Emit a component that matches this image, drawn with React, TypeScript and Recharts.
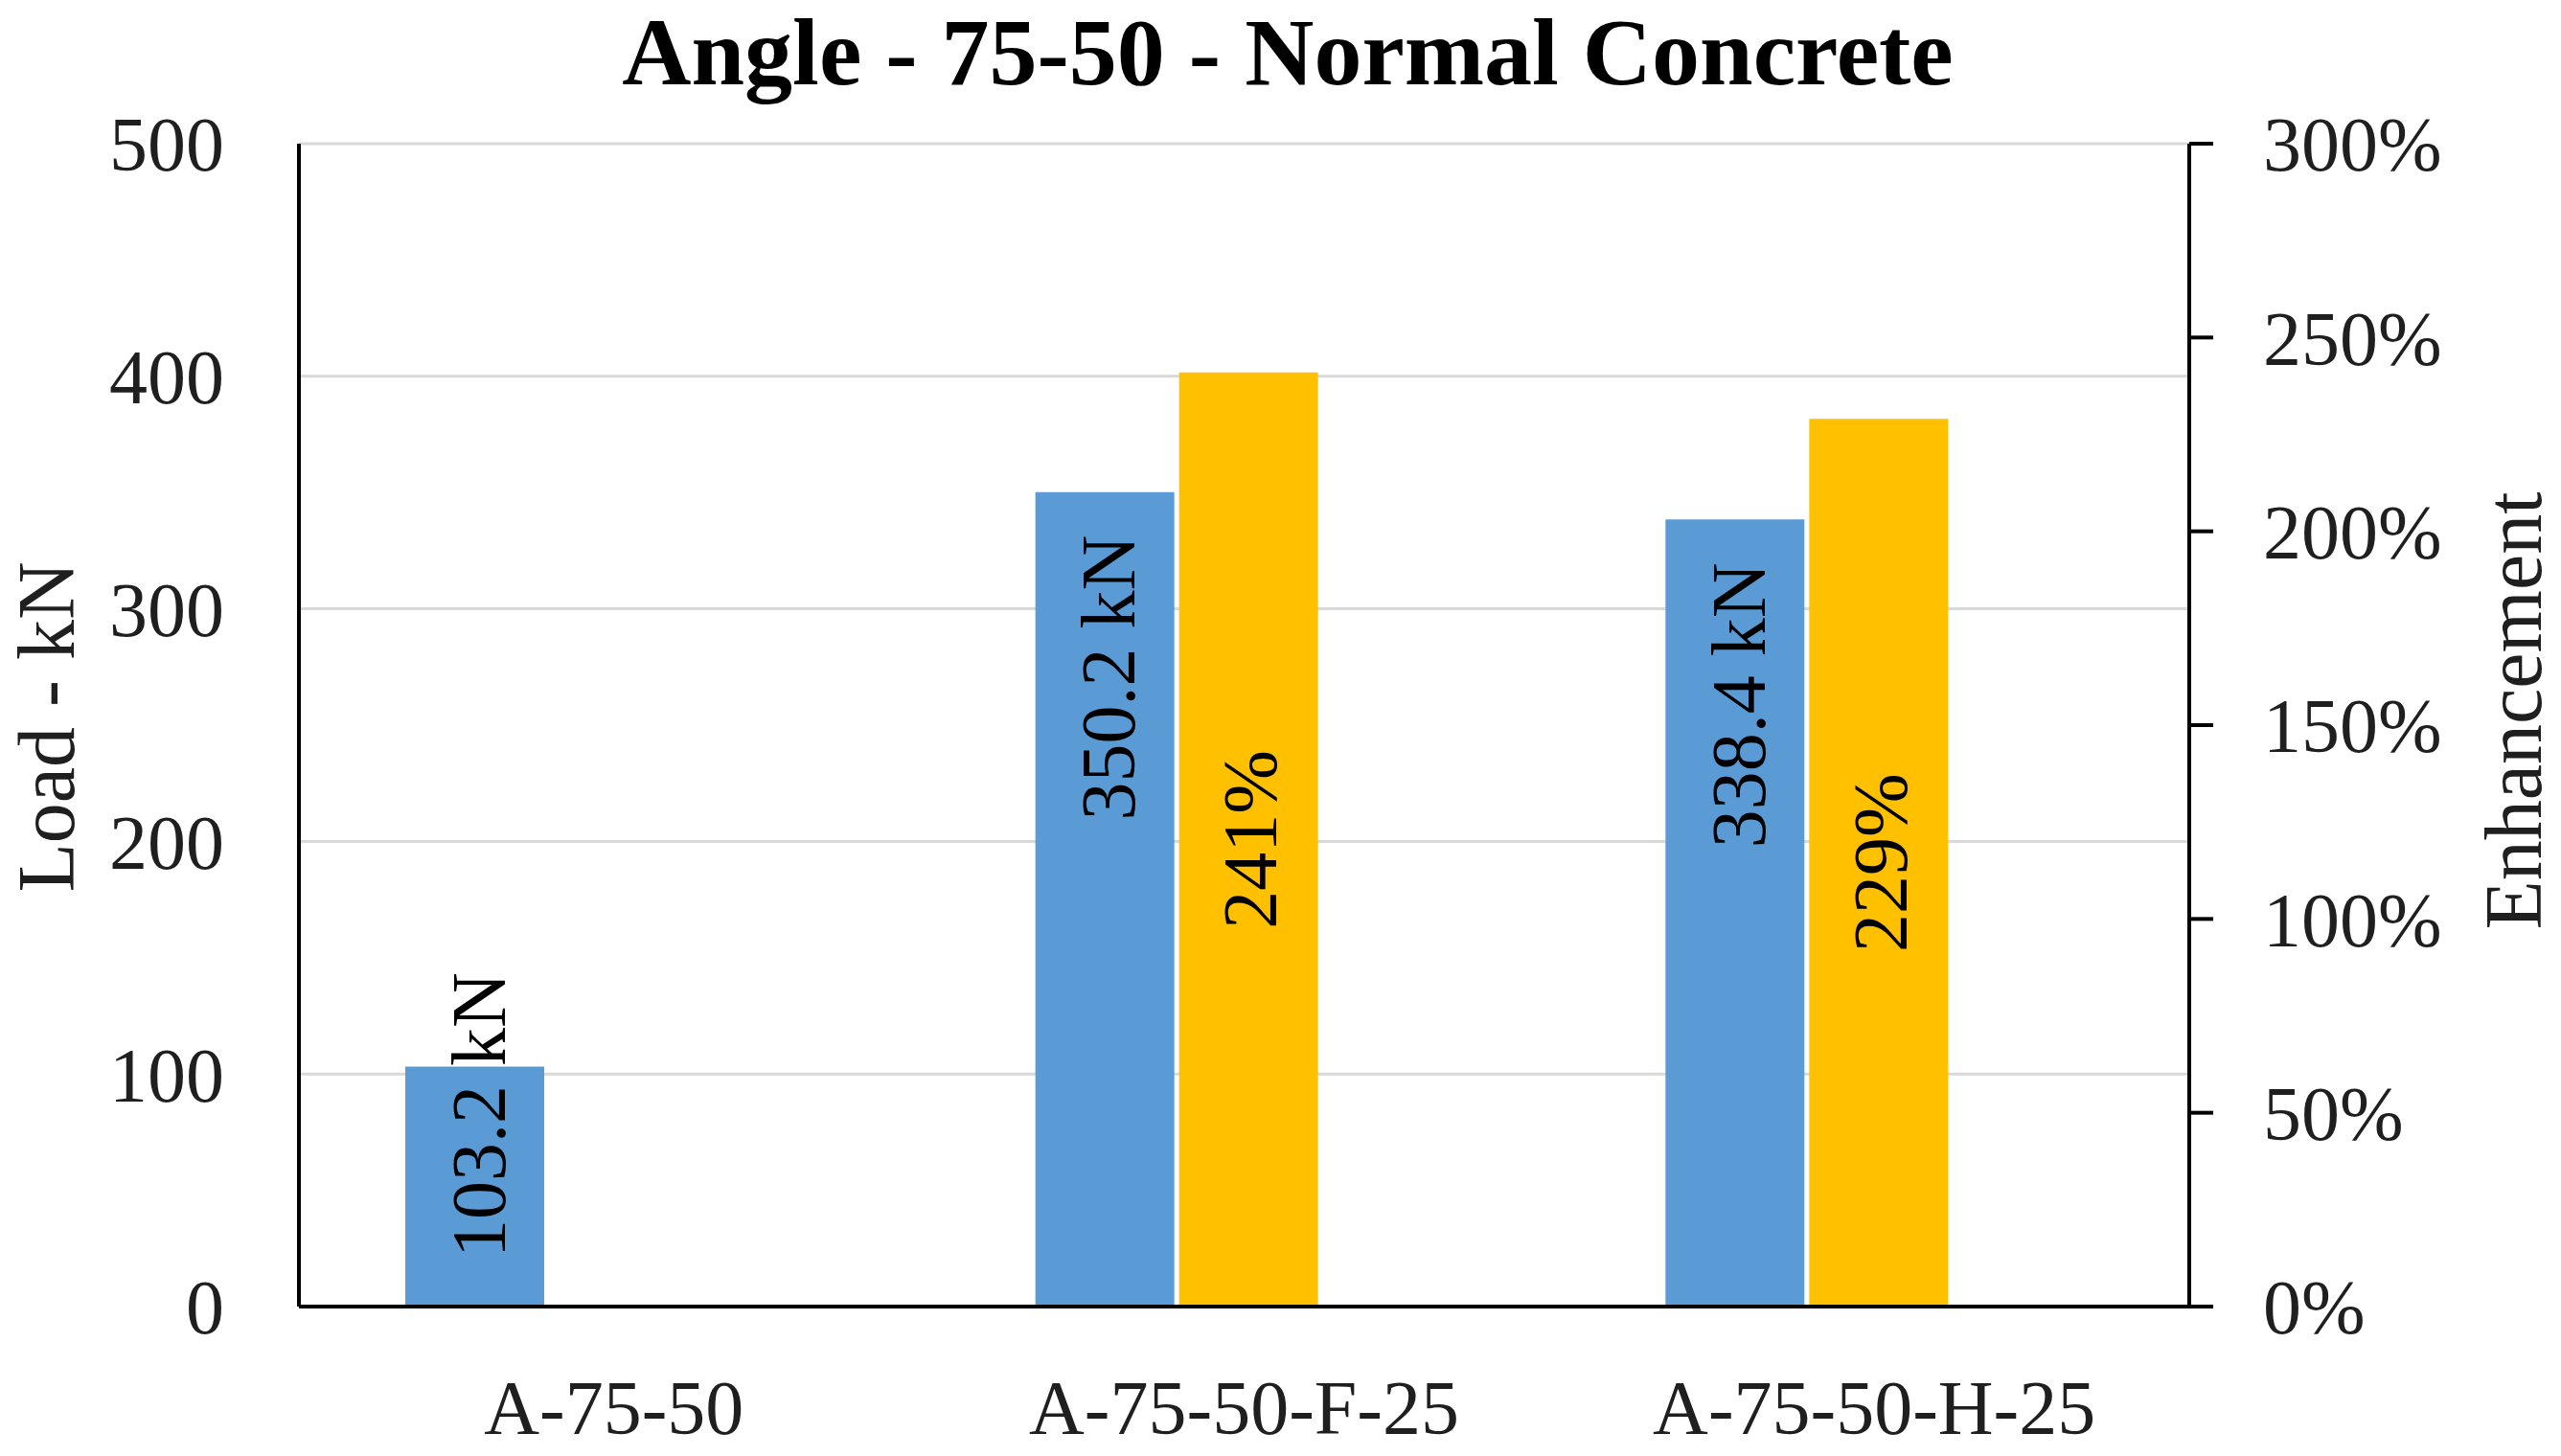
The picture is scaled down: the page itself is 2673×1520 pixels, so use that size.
import { BarChart, Bar, XAxis, YAxis, CartesianGrid, LabelList } from "recharts";

const categories = ["A-75-50", "A-75-50-F-25", "A-75-50-H-25"];
const loadKN = [103.2, 350.2, 338.4];
const enhancementPct: (number | null)[] = [null, 241, 229];
const loadTicks = [0, 100, 200, 300, 400, 500];
const pctTicks = [0, 50, 100, 150, 200, 250, 300];

const data = categories.map((name, i) => ({
  name,
  load: loadKN[i],
  enh: enhancementPct[i],
  pad: null,
}));

const FONT = "'Liberation Serif', 'Times New Roman', serif";
const INK = "#1f1f1f";

function LoadLabel(props: any) {
  const { x, y, width, height, value } = props;
  if (value == null) return null;
  const text = `${value} kN`;
  const fs = 80;
  const cx = x + width / 2 + 4;
  const base = y + height;
  const estLen = text.length * fs * 0.47;
  const fits = height > estLen + 45 + 51;
  const ay = fits ? y + 45 : base - 51;
  return (
    <text
      x={cx}
      y={ay}
      transform={`rotate(-90, ${cx}, ${ay})`}
      textAnchor={fits ? "end" : "start"}
      dominantBaseline="central"
      fontSize={fs}
      fontFamily={FONT}
      fill="#000"
    >
      {text}
    </text>
  );
}

function EnhLabel(props: any) {
  const { x, y, width, height, value } = props;
  if (value == null) return null;
  const cx = x + width / 2 + 2;
  const cy = y + height / 2;
  return (
    <text
      x={cx}
      y={cy}
      transform={`rotate(-90, ${cx}, ${cy})`}
      textAnchor="middle"
      dominantBaseline="central"
      fontSize={80}
      fontFamily={FONT}
      fill="#000"
    >
      {`${value}%`}
    </text>
  );
}

function AxisTitle({ viewBox, text, dx, dy }: any) {
  const vx = viewBox?.x ?? 0;
  const vy = viewBox?.y ?? 0;
  const vh = viewBox?.height ?? 0;
  const x = vx + dx;
  const y = vy + vh / 2 + dy;
  return (
    <text
      x={x}
      y={y}
      transform={`rotate(-90, ${x}, ${y})`}
      textAnchor="middle"
      dominantBaseline="central"
      fontSize={84}
      fontFamily={FONT}
      fill={INK}
    >
      {text}
    </text>
  );
}

export default function App() {
  const tickStyle = { fontSize: 80, fontFamily: FONT, fill: INK };
  return (
    <div style={{ position: "absolute", left: 0, top: 0, width: 2673, height: 1520, background: "#fff" }}>
      <BarChart
        width={2673}
        height={1520}
        data={data}
        margin={{ top: 150, right: 0, bottom: 0, left: 0 }}
        barSize={145}
        barGap={5}
      >
        <CartesianGrid yAxisId="left" vertical={false} stroke="#d9d9d9" strokeWidth={3} />
        <XAxis
          dataKey="name"
          height={156}
          axisLine={{ stroke: "#000", strokeWidth: 4 }}
          tickLine={false}
          tickSize={0}
          tickMargin={76}
          tick={tickStyle}
          interval={0}
        />
        <YAxis
          yAxisId="left"
          width={312}
          domain={[0, 500]}
          ticks={loadTicks}
          axisLine={{ stroke: "#000", strokeWidth: 4 }}
          tickLine={false}
          tickSize={0}
          tickMargin={78}
          tick={tickStyle}
          label={(p: any) => <AxisTitle viewBox={p.viewBox} text="Load - kN" dx={48} dy={2} />}
        />
        <YAxis
          yAxisId="right"
          orientation="right"
          width={388}
          domain={[0, 300]}
          ticks={pctTicks}
          tickFormatter={(v: number) => `${v}%`}
          axisLine={{ stroke: "#000", strokeWidth: 4 }}
          tickLine={{ stroke: "#000", strokeWidth: 4 }}
          tickSize={25}
          tickMargin={52}
          tick={tickStyle}
          label={(p: any) => <AxisTitle viewBox={p.viewBox} text="Enhancement" dx={338} dy={-15} />}
        />
        <Bar yAxisId="left" dataKey="load" fill="#5B9BD5" isAnimationActive={false}>
          <LabelList dataKey="load" content={LoadLabel} />
        </Bar>
        <Bar yAxisId="right" dataKey="enh" fill="#FFC000" isAnimationActive={false}>
          <LabelList dataKey="enh" content={EnhLabel} />
        </Bar>
        <Bar yAxisId="right" dataKey="pad" fill="none" barSize={135} legendType="none" isAnimationActive={false} />
      </BarChart>
      <svg
        width={2673}
        height={1520}
        style={{ position: "absolute", left: 0, top: 0, pointerEvents: "none" }}
      >
        <text x={1344} y={88} textAnchor="middle" fontSize={100} fontWeight="bold" fontFamily={FONT} fill="#000">
          Angle - 75-50 - Normal Concrete
        </text>
      </svg>
    </div>
  );
}
